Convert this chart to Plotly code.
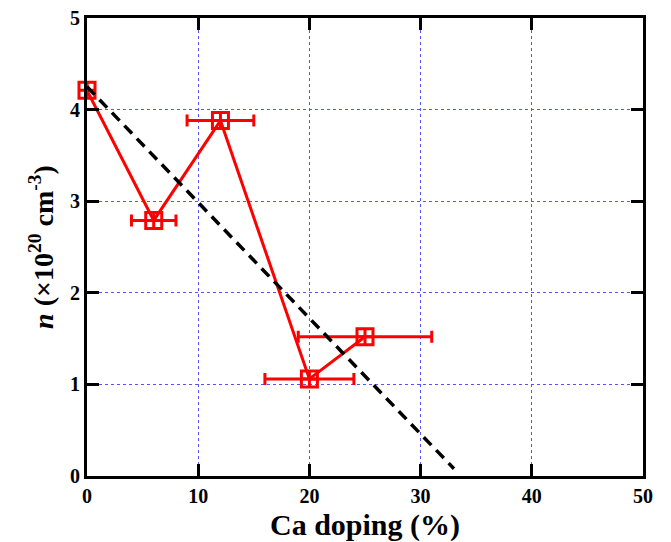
import plotly.graph_objects as go

# Carrier concentration vs Ca doping
ca_doping = [0, 6, 12, 20, 25]
carrier_n = [4.21, 2.79, 3.88, 1.06, 1.52]
doping_err = [0, 2, 3, 4, 6]

# Linear trend guide
trend_x = [0, 33]
trend_y = [4.25, 0.08]

x_ticks = [0, 10, 20, 30, 40, 50]
y_ticks = [0, 1, 2, 3, 4, 5]

serif = "Liberation Serif, Times New Roman, serif"

fig = go.Figure()

fig.add_trace(go.Scatter(
    x=ca_doping, y=carrier_n,
    mode="lines+markers",
    line=dict(color="#ff0000", width=3),
    marker=dict(symbol="square-cross-open", size=16, color="#ff0000",
                line=dict(color="#ff0000", width=3)),
    error_x=dict(type="data", array=doping_err, visible=True,
                 color="#ff0000", thickness=3, width=6),
    cliponaxis=False,
    showlegend=False,
))

fig.add_trace(go.Scatter(
    x=trend_x, y=trend_y,
    mode="lines",
    line=dict(color="black", width=3.5, dash="11px,7px"),
    showlegend=False,
))

axis_common = dict(
    showline=True, linecolor="black", linewidth=3, mirror="ticks",
    ticks="inside", ticklen=12, tickwidth=3, tickcolor="black",
    showgrid=True, gridcolor="#5555ff", griddash="dot", gridwidth=1,
    zeroline=False, automargin=False,
    tickfont=dict(family=serif, size=20, color="black", weight="bold"),
)

fig.update_xaxes(
    range=[0, 50], tickvals=x_ticks, ticktext=[str(v) for v in x_ticks],
    title=dict(text="<b>Ca doping (%)</b>",
               font=dict(family=serif, size=30, color="black"), standoff=8),
    **axis_common,
)
fig.update_yaxes(
    range=[0, 5], tickvals=y_ticks, ticktext=[str(v) for v in y_ticks],
    title=dict(text="<b><i>n</i> (×10<sup>20</sup> cm<sup>-3</sup>)</b>",
               font=dict(family=serif, size=28, color="black"), standoff=9),
    **axis_common,
)

fig.update_layout(
    width=671, height=542,
    margin=dict(l=87, r=28, t=18, b=66, autoexpand=False),
    paper_bgcolor="white", plot_bgcolor="white",
)

fig.write_html("out.html")
